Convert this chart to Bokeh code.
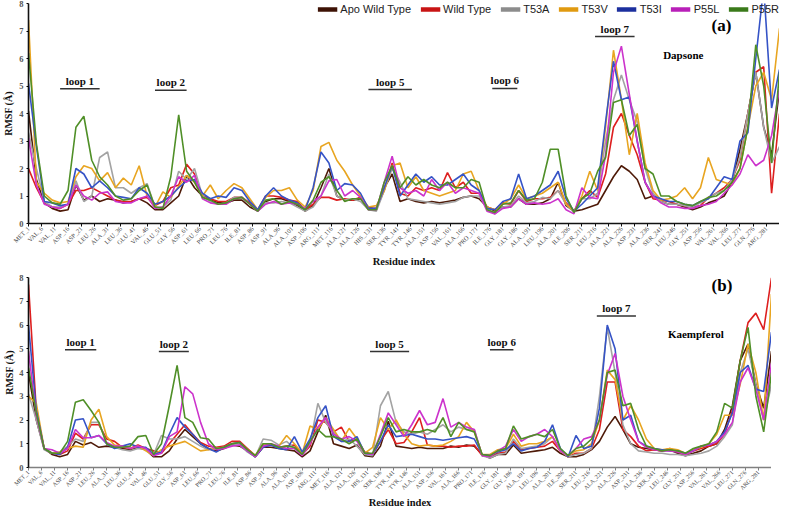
import math
from bokeh.plotting import figure
from bokeh.models import FixedTicker, Label, Legend, LegendItem, Range1d, ColumnDataSource
from bokeh.layouts import column
from bokeh.embed import file_html
from bokeh.resources import INLINE

# ---------------- data ----------------
residues = list(range(1, 287, 3))          # sampled residue numbers (1..286)

tick_res = list(range(1, 282, 5))
tick_names = ["MET_1", "VAL_6", "VAL_11", "ASP_16", "ASP_21", "LEU_26", "ALA_31", "LEU_36",
              "GLU_41", "VAL_46", "GLU_51", "GLY_56", "ASP_61", "LEU_66", "PRO_71", "LEU_76",
              "ILE_81", "ASP_86", "ASP_91", "ALA_96", "ALA_101", "ASP_106", "ARG_111", "MET_116",
              "ALA_121", "ALA_126", "HIS_131", "SER_136", "TYR_141", "TYR_146", "ALA_151", "ASP_156",
              "VAL_161", "ALA_166", "PRO_171", "ILE_176", "GLY_181", "GLY_186", "ALA_191", "LEU_196",
              "ALA_201", "ILE_206", "SER_211", "LEU_216", "ALA_221", "ALA_226", "ASP_231", "ALA_236",
              "SER_241", "LEU_246", "GLY_251", "ASP_256", "VAL_261", "VAL_266", "LEU_271", "GLN_276",
              "ARG_281"]
y_ticks = [0, 1, 2, 3, 4, 5, 6, 7, 8]

series_names = ["Apo Wild Type", "Wild Type", "T53A", "T53V", "T53I", "P55L", "P55R"]
series_colors = ["#4e1a08", "#dd1f1f", "#a3a3a3", "#e8a521", "#3553c6", "#cc33cc", "#4f8f27"]
legend_colors = ["#3d1205", "#c81414", "#8c8c8c", "#e09a10", "#1c2f9e", "#b81fb8", "#3a7a1a"]

# Panel (a) Dapsone
a_apo = [4.1, 1.6, 0.75, 0.55, 0.45, 0.5, 1.4, 0.85, 1.0, 0.8, 0.9, 0.85,
         0.75, 0.8, 0.9, 0.75, 0.5, 0.5, 0.75, 1.0, 1.75, 1.3, 1.0, 0.85,
         0.75, 0.75, 0.85, 0.85, 0.6, 0.45, 0.8, 0.9, 0.9, 0.8, 0.65, 0.45,
         0.65, 1.3, 2.0, 1.0, 0.85, 0.85, 0.9, 0.6, 0.5, 1.3, 1.8, 0.8,
         0.9, 0.8, 0.75, 0.8, 0.75, 0.8, 0.85, 0.95, 1.0, 0.9, 0.6, 0.45,
         0.6, 0.6, 0.9, 0.7, 0.7, 0.75, 0.9, 1.5, 0.65, 0.45, 0.5, 0.6,
         0.7, 1.2, 1.7, 2.1, 1.9, 1.6, 0.9, 1.0, 0.8, 0.7, 0.7, 0.6,
         0.5, 0.6, 0.75, 0.85, 1.0, 1.5, 2.7, 4.0, 5.5, 3.5, 2.5, 4.9]
a_wt = [2.0, 1.3, 0.75, 0.6, 0.55, 0.7, 1.2, 1.2, 1.3, 1.15, 1.0, 0.85,
        0.8, 0.8, 0.9, 0.95, 0.65, 0.8, 1.3, 1.4, 2.15, 1.8, 1.0, 0.9,
        0.8, 0.8, 0.95, 0.95, 0.75, 0.5, 1.0, 1.0, 0.95, 0.85, 0.8, 0.5,
        0.7, 0.95, 0.95, 0.85, 0.9, 0.85, 0.95, 0.55, 0.55, 1.2, 2.2, 1.1,
        1.0, 1.3, 1.2, 1.3, 1.2, 1.85, 1.3, 1.5, 1.1, 1.1, 0.6, 0.5,
        0.75, 0.7, 1.2, 0.8, 0.9, 0.9, 0.95, 1.2, 0.75, 0.45, 0.9, 1.2,
        0.95, 1.8, 3.5, 4.0, 3.2, 2.5, 1.5, 0.9, 0.85, 0.8, 0.7, 0.65,
        0.6, 0.65, 0.95, 1.1, 1.3, 1.6, 2.3, 4.0, 5.5, 5.7, 1.1, 4.0]
a_t53a = [3.3, 2.0, 0.8, 0.6, 0.6, 0.7, 1.55, 0.8, 1.0, 2.4, 2.6, 1.3,
          1.3, 1.1, 1.3, 1.45, 0.6, 0.6, 0.85, 1.9, 1.6, 2.0, 1.0, 0.8,
          0.7, 0.75, 0.95, 0.95, 0.7, 0.45, 0.75, 0.75, 0.8, 0.75, 0.6, 0.45,
          0.6, 1.0, 1.8, 1.0, 0.85, 0.9, 0.8, 0.5, 0.45, 1.2, 2.0, 1.5,
          0.9, 0.85, 0.8, 0.75, 0.7, 0.75, 0.8, 0.95, 1.0, 1.0, 0.55, 0.35,
          0.6, 0.65, 1.0, 0.75, 0.8, 0.95, 0.9, 1.2, 0.7, 0.4, 0.9, 0.9,
          1.1, 3.0, 4.5, 5.4, 4.5, 3.7, 2.0, 1.1, 0.8, 0.7, 0.7, 0.65,
          0.6, 0.75, 0.9, 1.1, 1.2, 1.6, 2.4, 4.0, 5.5, 3.5, 2.2, 2.8]
a_t53v = [7.4, 1.5, 1.1, 0.85, 0.75, 0.8, 1.7, 2.1, 2.0, 1.55, 1.85, 1.3,
          1.65, 1.4, 2.1, 1.0, 0.6, 1.15, 0.95, 1.35, 1.75, 1.5, 1.0, 1.4,
          0.9, 1.2, 1.45, 1.3, 0.9, 0.5, 0.95, 1.2, 1.2, 1.3, 0.85, 0.6,
          1.2, 2.8, 2.95, 2.3, 1.9, 1.4, 1.0, 0.6, 0.65, 1.2, 2.1, 2.2,
          1.3, 1.7, 1.2, 1.1, 1.0, 1.1, 1.2, 1.8, 1.9, 1.2, 0.6, 0.5,
          0.7, 0.9, 1.4, 0.9, 1.0, 1.1, 1.3, 1.5, 0.7, 0.45, 1.0, 1.9,
          1.2, 3.5, 6.3, 4.5, 2.5, 4.0, 2.2, 1.2, 0.85, 0.9, 1.0, 1.3,
          0.9, 1.3, 2.4, 1.6, 1.5, 1.4, 2.0, 3.5, 5.0, 5.5, 4.5, 7.1]
a_t53i = [5.1, 2.8, 0.8, 0.75, 0.65, 0.7, 2.0, 1.8, 1.3, 1.55, 1.3, 1.0,
          0.95, 0.9, 1.3, 1.1, 0.7, 0.8, 1.0, 1.3, 1.55, 1.6, 1.1, 0.9,
          1.0, 0.95, 1.3, 1.2, 0.8, 0.5, 1.0, 1.3, 1.0, 0.85, 0.75, 0.5,
          1.3, 2.6, 2.2, 1.2, 1.45, 1.4, 1.1, 0.55, 0.55, 1.3, 2.1, 1.0,
          1.4, 1.8, 1.5, 1.7, 1.4, 1.4, 1.6, 1.8, 1.4, 1.2, 0.55, 0.5,
          0.8, 0.9, 1.8, 0.9, 1.0, 1.2, 1.4, 1.9, 0.9, 0.45, 0.7, 1.0,
          1.3, 3.7, 5.9, 4.5, 4.6, 3.0, 1.5, 1.0, 0.9, 0.8, 0.8, 0.7,
          0.65, 0.8, 0.9, 1.3, 1.7, 1.6, 3.0, 3.3, 6.0, 8.6, 4.2, 5.6]
a_p55l = [3.1, 1.4, 0.7, 0.6, 0.55, 0.7, 1.4, 1.0, 0.85, 1.1, 1.15, 0.8,
          0.75, 0.75, 0.9, 1.0, 0.55, 0.6, 1.0, 1.7, 1.5, 1.75, 0.9, 0.75,
          0.7, 0.7, 0.9, 0.95, 0.7, 0.45, 0.7, 0.8, 0.7, 0.75, 0.7, 0.55,
          0.8, 1.0, 1.55, 1.6, 1.0, 1.2, 0.95, 0.5, 0.5, 1.5, 2.45, 1.3,
          1.1, 1.2, 1.0, 1.6, 1.2, 1.5, 1.1, 1.3, 1.2, 1.1, 0.45, 0.35,
          0.55, 0.6, 0.9, 0.7, 0.75, 0.7, 0.75, 0.9, 0.5, 0.35, 1.3, 0.95,
          0.9, 2.5, 5.5, 6.45, 4.7, 3.0, 1.5, 1.0, 0.75, 0.6, 0.6, 0.55,
          0.55, 0.65, 0.7, 0.8, 1.1, 1.4, 1.8, 2.5, 2.1, 2.3, 3.2, 4.9]
a_p55r = [6.2, 2.9, 1.0, 0.75, 0.7, 1.2, 3.5, 3.9, 2.3, 1.7, 1.4, 1.0,
          0.85, 0.9, 1.2, 1.4, 0.6, 0.55, 1.7, 3.95, 1.9, 1.5, 0.95, 0.85,
          0.7, 0.75, 0.9, 0.95, 0.7, 0.45, 0.85, 0.9, 0.7, 0.8, 0.7, 0.5,
          0.85, 1.5, 1.7, 1.2, 0.8, 0.9, 0.9, 0.5, 0.5, 1.5, 2.1, 1.3,
          1.7, 1.4, 1.6, 1.4, 1.3, 1.5, 1.3, 1.3, 1.6, 1.5, 0.5, 0.4,
          0.7, 0.75, 1.2, 0.85, 0.9, 1.5, 2.7, 2.7, 1.0, 0.4, 0.9, 1.1,
          1.9, 2.4, 4.4, 4.5, 3.2, 3.6, 2.0, 1.8, 1.0, 1.0, 0.8, 0.7,
          0.65, 0.8, 0.95, 1.0, 1.2, 1.5, 2.0, 3.5, 6.5, 5.0, 2.2, 5.5]

# Panel (b) Kaempferol
b_apo = [4.0, 2.0, 0.8, 0.55, 0.45, 0.55, 1.1, 0.95, 1.05, 0.85, 0.9, 0.85,
         0.8, 0.75, 0.85, 0.75, 0.45, 0.45, 0.7, 1.2, 1.6, 1.3, 1.0, 0.8,
         0.7, 0.8, 0.95, 0.9, 0.7, 0.45, 0.85, 0.85, 0.8, 0.75, 0.7, 0.45,
         0.7, 1.5, 2.2, 1.0, 0.9, 0.8, 0.95, 0.5, 0.45, 0.9, 1.95, 0.9,
         0.85, 0.8, 0.85, 0.8, 0.8, 0.8, 0.9, 0.85, 0.95, 0.9, 0.55, 0.4,
         0.55, 0.55, 0.95, 0.6, 0.65, 0.7, 0.75, 0.85, 0.6, 0.45, 0.45, 0.55,
         0.75, 1.1, 1.7, 2.15, 1.6, 1.0, 0.85, 0.8, 0.75, 0.7, 0.75, 0.6,
         0.5, 0.6, 0.7, 0.9, 1.0, 1.6, 2.6, 4.5, 5.2, 3.5, 2.5, 4.9]
b_wt = [7.7, 2.4, 0.8, 0.6, 0.55, 0.7, 1.45, 1.2, 1.8, 1.8, 1.2, 1.1,
        0.85, 0.8, 0.95, 0.8, 0.7, 0.6, 1.0, 1.4, 1.8, 1.4, 1.05, 0.9,
        0.85, 0.9, 1.1, 1.1, 0.8, 0.5, 0.9, 0.95, 0.85, 0.9, 0.95, 0.55,
        0.9, 2.0, 1.9, 1.5, 1.7, 1.1, 1.2, 0.65, 0.55, 1.1, 1.6, 1.0,
        1.05, 1.5, 2.1, 0.95, 0.9, 0.9, 0.85, 0.9, 0.9, 0.95, 0.5, 0.45,
        0.6, 0.65, 1.1, 0.75, 0.8, 0.85, 0.9, 1.1, 0.7, 0.45, 0.6, 0.6,
        0.8, 1.6, 3.6, 3.6, 1.6, 1.3, 0.9, 0.7, 0.75, 0.7, 0.8, 0.65,
        0.55, 0.7, 0.8, 0.9, 1.0, 1.4, 2.4, 4.5, 6.1, 6.5, 5.8, 8.0]
b_t53a = [3.1, 2.0, 0.75, 0.6, 0.65, 0.9, 1.2, 1.1, 1.9, 1.9, 1.0, 0.85,
          0.75, 0.7, 0.8, 0.75, 0.55, 1.35, 1.2, 1.2, 1.3, 1.1, 0.9, 0.75,
          0.8, 0.85, 0.95, 0.95, 0.65, 0.45, 1.2, 1.15, 0.95, 1.1, 0.8, 0.55,
          1.0, 2.7, 1.9, 1.5, 1.1, 1.2, 0.9, 0.55, 0.5, 2.6, 3.2, 1.9,
          1.5, 1.4, 1.5, 1.4, 1.6, 1.8, 1.5, 1.7, 1.6, 1.6, 0.5, 0.4,
          0.55, 0.6, 1.2, 0.8, 0.85, 0.9, 1.0, 1.3, 0.7, 0.45, 0.55, 0.6,
          0.8, 3.0, 5.9, 4.0, 1.8, 1.0, 0.7, 0.65, 0.6, 0.6, 0.55, 0.55,
          0.5, 0.55, 0.6, 0.7, 0.9, 1.3, 1.8, 4.0, 5.0, 3.5, 2.0, 3.5]
b_t53v = [3.0, 2.7, 0.8, 0.6, 0.65, 0.8, 0.9, 0.85, 2.0, 2.45, 1.3, 0.95,
          0.9, 0.8, 0.9, 0.7, 0.5, 0.75, 0.9, 1.0, 1.1, 0.9, 0.7, 0.75,
          0.8, 0.85, 1.0, 1.05, 0.75, 0.5, 1.0, 0.95, 0.9, 1.35, 1.0, 0.6,
          1.75, 1.6, 2.1, 1.6, 1.1, 1.65, 1.2, 0.6, 0.85, 2.1, 1.6, 2.0,
          1.4, 1.0, 0.9, 0.95, 0.9, 0.95, 1.1, 1.3, 1.9, 1.5, 0.55, 0.55,
          0.75, 0.8, 1.4, 0.9, 1.0, 1.0, 1.1, 1.3, 0.7, 0.5, 0.7, 0.75,
          1.0, 2.0, 4.1, 3.7, 2.0, 2.6, 2.0, 1.2, 0.8, 0.75, 0.8, 0.75,
          0.6, 0.75, 0.85, 1.0, 1.4, 2.2, 2.2, 3.5, 5.2, 4.0, 2.0, 7.3]
b_t53i = [6.0, 2.4, 0.8, 0.6, 0.55, 0.85, 2.0, 2.05, 1.25, 1.35, 1.0, 0.8,
          0.9, 1.0, 0.85, 0.85, 0.55, 0.65, 1.4, 2.1, 1.7, 1.4, 1.0, 0.8,
          0.65, 0.85, 1.0, 1.05, 0.7, 0.45, 0.85, 0.95, 0.8, 0.75, 1.3, 0.65,
          1.2, 2.1, 2.6, 1.3, 1.1, 1.1, 1.3, 0.6, 0.55, 1.1, 1.8, 1.3,
          1.35, 1.4, 1.3, 1.2, 1.2, 1.15, 1.2, 1.25, 1.3, 1.2, 0.55, 0.5,
          0.65, 0.75, 1.0, 0.7, 0.8, 0.85, 1.1, 1.8, 0.8, 0.45, 1.35, 0.8,
          0.9, 2.5, 6.0, 5.0, 2.0, 2.2, 1.1, 0.9, 0.8, 0.75, 0.7, 0.7,
          0.6, 0.7, 0.9, 0.95, 1.1, 1.5, 2.3, 4.0, 4.3, 3.3, 3.2, 5.7]
b_p55l = [4.9, 2.2, 0.8, 0.75, 0.6, 0.8, 1.6, 1.25, 1.25, 1.35, 1.05, 0.9,
          0.9, 0.8, 0.9, 0.8, 0.5, 0.6, 1.3, 1.5, 3.4, 3.1, 1.9, 1.0,
          0.75, 0.8, 0.9, 0.95, 0.7, 0.45, 0.9, 1.0, 0.9, 0.8, 0.8, 0.5,
          1.0, 1.7, 2.1, 1.4, 1.2, 1.3, 1.1, 0.6, 0.55, 1.4, 2.3, 1.8,
          1.3, 1.8, 2.4, 1.8, 1.9, 2.9, 1.7, 1.9, 1.7, 1.6, 0.5, 0.45,
          0.7, 0.9, 1.6, 1.1, 1.3, 1.4, 1.6, 1.3, 0.7, 0.5, 0.8, 1.2,
          1.3, 2.0, 3.9, 4.8, 3.0, 2.0, 1.1, 0.85, 0.75, 0.7, 0.7, 0.65,
          0.55, 0.7, 0.9, 0.95, 1.1, 1.4, 1.9, 3.6, 4.2, 3.3, 2.0, 4.4]
b_p55r = [4.2, 2.3, 0.8, 0.6, 0.6, 1.1, 2.75, 2.85, 2.4, 1.9, 1.0, 0.85,
          0.85, 0.9, 1.3, 1.35, 0.55, 1.0, 2.6, 4.3, 2.1, 1.9, 1.25, 1.2,
          0.8, 0.85, 1.0, 1.05, 0.75, 0.5, 1.0, 1.0, 0.85, 0.9, 0.85, 0.55,
          1.1, 1.6, 1.3, 1.3, 1.2, 1.0, 1.2, 0.6, 0.6, 1.3, 2.1, 1.5,
          1.6, 1.5, 1.5, 1.6, 1.5, 2.1, 1.3, 1.9, 1.6, 1.5, 0.55, 0.5,
          0.7, 0.8, 1.75, 1.2, 1.3, 1.4, 1.3, 1.6, 0.8, 0.5, 0.8, 0.9,
          1.2, 2.0, 4.0, 4.1, 2.6, 2.7, 1.6, 0.9, 0.8, 0.7, 0.75, 0.7,
          0.6, 0.8, 0.9, 1.0, 1.5, 2.7, 2.5, 4.5, 5.9, 3.0, 1.5, 4.0]

panel_a = [a_apo, a_wt, a_t53a, a_t53v, a_t53i, a_p55l, a_p55r]
panel_b = [b_apo, b_wt, b_t53a, b_t53v, b_t53i, b_p55l, b_p55r]

loop_names = ["loop 1", "loop 2", "loop 5", "loop 6", "loop 7"]
a_loop_start = [13, 49, 130, 177, 216]
a_loop_end = [28, 61, 146.5, 186.5, 231]
a_loop_y = [4.9, 4.85, 4.87, 4.91, 6.8]
b_loop_start = [15, 51, 132, 178, 219]
b_loop_end = [27, 62.5, 147, 187, 234]
b_loop_y = [4.96, 4.88, 4.88, 4.96, 6.38]

SERIF = "Liberation Serif"


def make_panel(vals, width, height, bl, bt, bb, loops, panel_tag, tag_pos, drug, drug_pos,
               xaxis_color, xlab_size, xtitle_standoff, ytitle_standoff):
    p = figure(width=width, height=height, output_backend="svg", toolbar_location=None,
               x_range=Range1d(1, 286), y_range=Range1d(0, 8),
               min_border_left=bl, min_border_right=0, min_border_top=bt, min_border_bottom=bb)
    p.grid.visible = False
    p.outline_line_color = None
    for v, c in zip(vals, series_colors):
        p.line(x=residues, y=v, line_color=c, line_width=1.6)

    xa = p.xaxis[0]
    xa.ticker = FixedTicker(ticks=tick_res)
    xa.major_label_overrides = {r: n for r, n in zip(tick_res, tick_names)}
    xa.major_label_orientation = math.pi / 4
    xa.major_label_text_font = SERIF
    xa.major_label_text_font_size = xlab_size
    xa.major_label_text_color = "#444444"
    xa.major_label_standoff = 1
    xa.major_tick_out = 3
    xa.major_tick_in = 0
    xa.minor_tick_out = 0
    xa.axis_line_color = xaxis_color
    xa.major_tick_line_color = xaxis_color
    xa.axis_line_width = 1.6
    xa.axis_label = "Residue index"
    xa.axis_label_text_font = SERIF
    xa.axis_label_text_font_style = "bold"
    xa.axis_label_text_font_size = "10.5px"
    xa.axis_label_text_color = "#111111"
    xa.axis_label_standoff = xtitle_standoff

    ya = p.yaxis[0]
    ya.ticker = FixedTicker(ticks=y_ticks)
    ya.major_label_text_font = SERIF
    ya.major_label_text_font_style = "bold"
    ya.major_label_text_font_size = "8.5px"
    ya.major_label_text_color = "#555555"
    ya.major_label_standoff = 3
    ya.major_tick_out = 2
    ya.major_tick_in = 0
    ya.minor_tick_out = 0
    ya.axis_line_color = "#111111"
    ya.axis_line_width = 1.6
    ya.axis_label = "RMSF (Å)"
    ya.axis_label_text_font = SERIF
    ya.axis_label_text_font_style = "bold"
    ya.axis_label_text_font_size = "10px"
    ya.axis_label_text_color = "#111111"
    ya.axis_label_standoff = ytitle_standoff

    starts, ends, ys = loops
    src = ColumnDataSource(dict(x0=starts, x1=ends, y=ys))
    p.segment(x0="x0", y0="y", x1="x1", y1="y", source=src, line_color="#333333", line_width=1.5)
    for name, s, e, y in zip(loop_names, starts, ends, ys):
        p.add_layout(Label(x=(s + e) / 2, y=y, text=name, text_align="center",
                           text_baseline="bottom", y_offset=2, text_font=SERIF,
                           text_font_style="bold", text_font_size="11px", text_color="#111111"))
    p.add_layout(Label(x=tag_pos[0], y=tag_pos[1], text=panel_tag, text_align="center",
                       text_baseline="middle", text_font=SERIF, text_font_style="bold",
                       text_font_size="17px", text_color="#000000"))
    p.add_layout(Label(x=drug_pos[0], y=drug_pos[1], text=drug, text_align="center",
                       text_baseline="middle", text_font=SERIF, text_font_style="bold",
                       text_font_size="11px", text_color="#000000"))
    return p


p1 = make_panel(panel_a, 779, 270, 23, 3, 45, (a_loop_start, a_loop_end, a_loop_y),
                "(a)", (264, 7.2), "Dapsone", (249.5, 6.13), "#111111", "6.4px", 2, 2)
p2 = make_panel(panel_b, 771, 241, 22, 7, 41, (b_loop_start, b_loop_end, b_loop_y),
                "(b)", (267, 7.65), "Kaempferol", (257, 5.62), "#808080", "6px", 1, 1)

# legend with thick swatches (renderers drawn outside the visible range)
items = []
for name, c in zip(series_names, legend_colors):
    r = p1.line(x=[-20, -10], y=[-5, -5], line_color=c, line_width=4.5)
    items.append(LegendItem(label=name, renderers=[r]))
legend = Legend(items=items, orientation="horizontal", location="top_right",
                background_fill_alpha=0, border_line_color=None, padding=0, margin=0,
                spacing=9, glyph_width=20, glyph_height=12, label_height=12,
                label_standoff=3, label_text_font="Liberation Sans",
                label_text_font_size="11px", label_text_color="#222222")
p1.add_layout(legend, "center")

layout = column(p1, p2, spacing=0)
open("out.html", "w").write(file_html(layout, INLINE))
